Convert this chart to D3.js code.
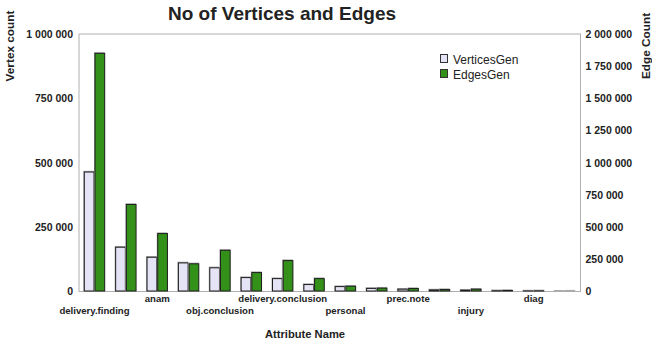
<!DOCTYPE html>
<html>
<head>
<meta charset="utf-8">
<script src="https://cdn.jsdelivr.net/npm/d3@7"></script>
<style>
  html, body { margin: 0; padding: 0; background: #fff; }
  svg { display: block; font-family: "Liberation Sans", Arial, Helvetica, sans-serif; }
</style>
</head>
<body>
<svg id="chart" width="652" height="344"></svg>
<script>
// ---- data ----
const categories = ["delivery.finding", "", "anam", "", "obj.conclusion", "", "delivery.conclusion", "",
                    "personal", "", "prec.note", "", "injury", "", "diag", ""];
const seriesNames = ["VerticesGen", "EdgesGen"];
const verticesGen = [464000, 172000, 133000, 111000, 92000, 54000, 50000, 27000,
                     19000, 12000, 9000, 6000, 5000, 3000, 2000, 1000];
const edgesGen = [1850000, 676000, 450000, 215000, 320000, 147000, 240000, 100000,
                  41000, 26000, 23000, 15000, 18000, 8000, 5000, 3000];
const leftTicks = [0, 250000, 500000, 750000, 1000000];
const rightTicks = [0, 250000, 500000, 750000, 1000000, 1250000, 1500000, 1750000, 2000000];
const colors = ["#e4e4f6", "#33911a"];

// ---- layout ----
const svg = d3.select("#chart");
const pLeft = 79, pRight = 580.5, pTop = 34, pBottom = 291.5;

const x0 = d3.scaleBand().domain(d3.range(categories.length)).range([pLeft, pRight])
  .paddingInner(0.318).paddingOuter(0.153);
const x1 = d3.scaleBand().domain(seriesNames).range([0, x0.bandwidth()]);
const yL = d3.scaleLinear().domain([0, 1000000]).range([pBottom, pTop]);
const yR = d3.scaleLinear().domain([0, 2000000]).range([pBottom, pTop]);
const fmt = v => d3.format(",")(v).replace(/,/g, " ");

// frame
svg.append("rect").attr("x", pLeft).attr("y", pTop).attr("width", pRight - pLeft).attr("height", pBottom - pTop)
  .attr("fill", "none").attr("stroke", "#b0b0b0").attr("stroke-width", 1);

// bars
const rows = categories.map((c, i) => ({ i, v: verticesGen[i], e: edgesGen[i] }));
const g = svg.append("g");
rows.forEach(r => {
  const items = [
    { s: "VerticesGen", y: yL(r.v), c: colors[0] },
    { s: "EdgesGen", y: yR(r.e), c: colors[1] }
  ];
  items.forEach(it => {
    const bx = x0(r.i) + x1(it.s);
    const h = pBottom - it.y;
    g.append("rect").attr("x", bx - 0.5).attr("y", it.y - 1.2).attr("width", x1.bandwidth())
      .attr("height", h + 1.2).attr("fill", "#a8a8a8");
    g.append("rect").attr("x", bx + 0.5).attr("y", it.y).attr("width", x1.bandwidth() - 1)
      .attr("height", Math.max(h - 0.5, 0)).attr("fill", it.c)
      .attr("stroke", "#1e1e1e").attr("stroke-width", 1);
  });
});

// left axis
const axL = d3.axisLeft(yL).tickValues(leftTicks).tickSize(0).tickPadding(6).tickFormat(fmt);
const gL = svg.append("g").attr("transform", `translate(${pLeft},0)`).call(axL);
gL.select(".domain").remove();
gL.selectAll("text").attr("font-size", "10.5px").attr("font-weight", "bold").attr("fill", "#222")
  .attr("font-family", "Liberation Sans, Arial, sans-serif");

// right axis
const axR = d3.axisRight(yR).tickValues(rightTicks).tickSize(0).tickPadding(5).tickFormat(fmt);
const gR = svg.append("g").attr("transform", `translate(${pRight},0)`).call(axR);
gR.select(".domain").remove();
gR.selectAll("text").attr("font-size", "10.5px").attr("font-weight", "bold").attr("fill", "#222")
  .attr("font-family", "Liberation Sans, Arial, sans-serif");

// bottom axis (category labels, alternating rows)
const axB = d3.axisBottom(x0).tickSize(0).tickPadding(0).tickFormat(i => categories[i]);
const gB = svg.append("g").attr("transform", `translate(0,${pBottom})`).call(axB);
gB.select(".domain").remove();
gB.selectAll("text").attr("font-size", "9.6px").attr("font-weight", "bold").attr("fill", "#222")
  .attr("font-family", "Liberation Sans, Arial, sans-serif")
  .attr("dy", null)
  .attr("y", i => ((i / 2) % 2 === 0 ? 22.5 : 10.5));

// title
svg.append("text").attr("x", 282).attr("y", 20).attr("text-anchor", "middle")
  .attr("font-size", "19px").attr("font-weight", "bold").attr("fill", "#222")
  .text("No of Vertices and Edges");

// axis titles
svg.append("text").attr("x", 305).attr("y", 338).attr("text-anchor", "middle")
  .attr("font-size", "11.2px").attr("font-weight", "bold").attr("fill", "#222")
  .text("Attribute Name");
svg.append("text").attr("transform", "translate(14,46) rotate(-90)").attr("text-anchor", "middle")
  .attr("font-size", "11.8px").attr("font-weight", "bold").attr("fill", "#222")
  .text("Vertex count");
svg.append("text").attr("transform", "translate(649.5,46) rotate(-90)").attr("text-anchor", "middle")
  .attr("font-size", "11.8px").attr("font-weight", "bold").attr("fill", "#222")
  .text("Edge Count");

// legend
const lg = svg.append("g");
seriesNames.forEach((s, k) => {
  lg.append("rect").attr("x", 440.5).attr("y", 54.5 + k * 15).attr("width", 7).attr("height", 8)
    .attr("fill", colors[k]).attr("stroke", "#333").attr("stroke-width", 1);
  lg.append("text").attr("x", 453).attr("y", 64 + k * 15)
    .attr("font-size", "12px").attr("fill", "#222").text(s);
});
</script>
</body>
</html>
